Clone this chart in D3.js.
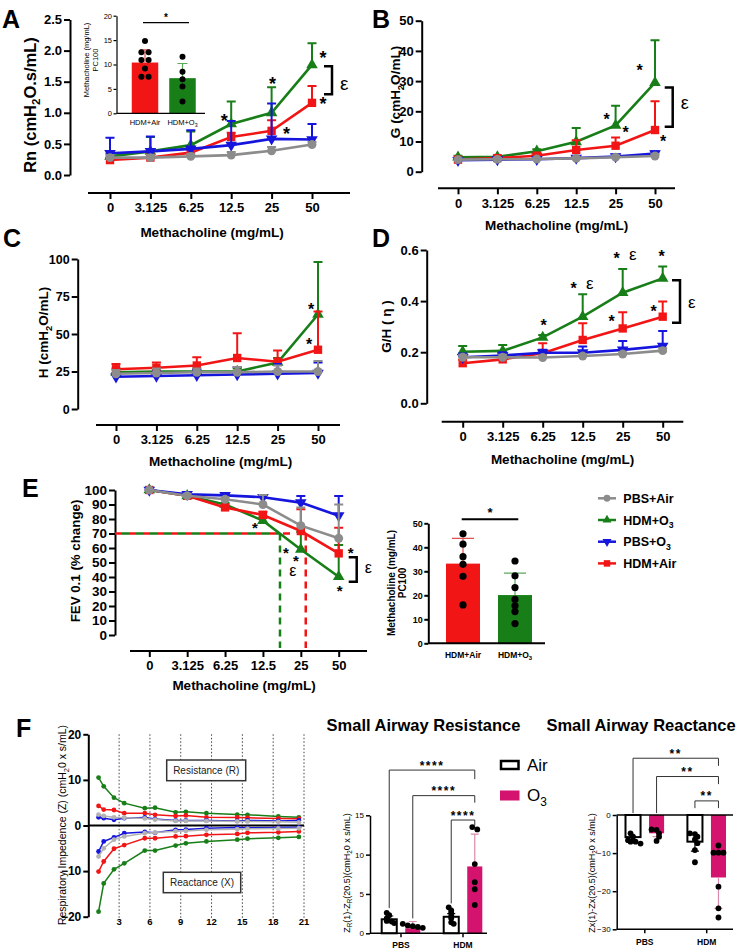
<!DOCTYPE html>
<meta charset="utf-8">
<style>
  body { margin: 0; background: #fff; }
</style>
<body>
<script src="https://cdn.jsdelivr.net/npm/d3@7"></script>
<script>

// ---------------- data ----------------
var doses = ['0', '3.125', '6.25', '12.5', '25', '50'];

// A: Rn (mean, top of error bar)
var rnPbsAir = [0.28, 0.28, 0.30, 0.32, 0.39, 0.49];
var rnPbsAirErr = [0.32, 0.32, 0.34, 0.37, 0.45, 0.53];
var rnHdmO3 = [0.30, 0.38, 0.48, 0.82, 1.00, 1.77];
var rnHdmO3Err = [0.34, 0.61, 0.70, 1.18, 1.41, 2.12];
var rnPbsO3 = [0.35, 0.38, 0.42, 0.48, 0.58, 0.57];
var rnPbsO3Err = [0.60, 0.62, 0.72, 0.87, 1.15, 0.82];
var rnHdmAir = [0.24, 0.28, 0.36, 0.61, 0.71, 1.16];
var rnHdmAirErr = [0.28, 0.32, 0.40, 0.68, 0.88, 1.43];

// A inset: PC100 Rn
var pcGroups = ['HDM+Air', 'HDM+O_{3}'];
var pcRnMean = [10.4, 7.2];
var pcRnErr = [13.0, 10.2];
var pcRnAirDots = [14.8, 12.5, 12.5, 10.9, 10.9, 9.2, 7.5, 7.5];
var pcRnO3Dots = [11.6, 8.5, 7.0, 5.5, 2.4];

// B: G
var gPbsAir = [4.0, 4.1, 4.2, 4.4, 4.8, 5.2];
var gPbsAirErr = [4.4, 4.5, 4.6, 4.9, 5.4, 5.9];
var gHdmO3 = [4.8, 4.9, 6.8, 9.9, 15.3, 29.5];
var gHdmO3Err = [5.3, 5.4, 7.4, 14.5, 21.8, 43.5];
var gPbsO3 = [3.8, 4.0, 4.1, 4.5, 5.0, 6.0];
var gPbsO3Err = [4.2, 4.4, 4.6, 5.2, 5.7, 6.8];
var gHdmAir = [4.0, 4.5, 5.3, 7.2, 8.6, 13.8];
var gHdmAirErr = [4.4, 5.0, 5.9, 10.4, 11.3, 23.3];

// C: H
var hPbsAir = [23.5, 24, 24.5, 24.5, 25, 25];
var hPbsAirErr = [26, 27, 27, 28, 29, 32];
var hHdmO3 = [24.5, 25, 25, 25, 31, 63];
var hHdmO3Err = [27, 27, 27, 27, 34, 98];
var hPbsO3 = [21.5, 22, 22.5, 23, 23.5, 24];
var hPbsO3Err = [24, 25, 26, 28, 30, 31];
var hHdmAir = [26.5, 27.5, 29, 34, 31.5, 39.5];
var hHdmAirErr = [30, 31, 34.5, 50.5, 39, 65];

// D: G/H
var ghPbsAir = [0.18, 0.18, 0.179, 0.185, 0.193, 0.206];
var ghPbsAirErr = [0.19, 0.19, 0.187, 0.193, 0.20, 0.215];
var ghHdmO3 = [0.202, 0.205, 0.258, 0.339, 0.433, 0.489];
var ghHdmO3Err = [0.224, 0.228, 0.267, 0.427, 0.526, 0.535];
var ghPbsO3 = [0.18, 0.187, 0.198, 0.198, 0.209, 0.224];
var ghPbsO3Err = [0.195, 0.20, 0.21, 0.222, 0.244, 0.283];
var ghHdmAir = [0.157, 0.172, 0.196, 0.248, 0.293, 0.339];
var ghHdmAirErr = [0.17, 0.18, 0.235, 0.313, 0.356, 0.398];

// E: FEV0.1 % change
var fevPbsAir = [100, 96, 93.6, 90, 75.4, 66.7];
var fevPbsAirErr = [100, 97.5, 95, 96.5, 88, 90];
var fevHdmO3 = [100, 96, 90, 78.9, 59, 40.2];
var fevHdmO3Err = [100, 97, 91, 81, 71, 62];
var fevPbsO3 = [100, 97, 96.3, 95, 91.3, 82.3];
var fevPbsO3Err = [100, 98, 97, 96.5, 95.9, 95.9];
var fevHdmAir = [100, 96, 88, 82.8, 71.7, 56.3];
var fevHdmAirErr = [100, 97, 89.5, 85, 86.7, 74];
// dose position (in dose steps) where FEV0.1 falls to 70 %
var pc30HdmO3 = 3.45;
var pc30HdmAir = 4.13;

// E bars: PC100 FEV
var pcFevMean = [33.2, 20.1];
var pcFevErr = [43.7, 29.2];
var pcFevAirDots = [45.6, 41.3, 36.1, 32.9, 27.9, 16.0];
var pcFevO3Dots = [34.3, 28.1, 23.2, 18.3, 15.6, 13.2, 8.2];

// F: impedance spectra
var freqs = [1, 1.5, 2.5, 3.5, 5.5, 6.5, 8.5, 9.5, 11.5, 14.5, 15.5, 18.5, 20.5];
var zrPbsAir = [2.4, 2.1, 1.8, 1.7, 1.55, 1.3, 1.0, 1.0, 1.0, 0.9, 0.9, 0.8, 0.7];
var zrHdmO3 = [10.5, 8.6, 6.1, 4.9, 3.8, 3.9, 2.9, 3.0, 2.7, 2.4, 2.35, 2.0, 1.8];
var zrPbsO3 = [1.8, 1.6, 1.25, 1.6, 1.75, 1.4, 1.1, 1.1, 1.1, 1.0, 1.1, 1.0, 1.1];
var zrHdmAir = [4.3, 3.5, 3.4, 2.7, 2.7, 2.35, 2.1, 2.2, 1.8, 1.75, 1.7, 1.55, 1.5];
var zxPbsAir = [-6.8, -5.0, -3.1, -2.4, -1.7, -1.55, -1.25, -1.2, -0.95, -0.8, -0.7, -0.65, -0.6];
var zxHdmO3 = [-18.9, -12.7, -9.6, -8.3, -5.5, -5.5, -4.4, -3.9, -3.5, -3.1, -2.9, -2.7, -2.5];
var zxPbsO3 = [-5.7, -3.5, -2.6, -1.7, -1.4, -1.6, -0.95, -0.9, -0.6, -0.45, -0.5, -0.45, -0.4];
var zxHdmAir = [-10.1, -7.9, -5.1, -4.3, -2.8, -2.8, -2.4, -2.35, -2.05, -1.85, -1.6, -1.5, -1.3];

// F: small airway bars
var airGroups = ['PBS', 'HDM'];
var exposures = ['Air', 'O3'];
var sarMean = {Air: [1.78, 2.1], O3: [0.64, 8.5]};
var sarErr = {Air: [2.2, 2.5], O3: [1.5, 12.6]};
var sarDots = {
  Air: [[2.6, 2.3, 1.9, 1.57, 1.5, 1.3], [3.3, 2.9, 2.6, 2.2, 1.9, 1.4, 1.2]],
  O3: [[1.2, 1.0, 0.9, 0.8, 0.7], [13.5, 13.2, 8.8, 6.5, 5.6, 3.6]]
};
var sxMean = {Air: [-5.8, -7.0], O3: [-4.8, -16.4]};
var sxErr = {Air: [-6.5, -9.5], O3: [-5.7, -24.5]};
var sxDots = {
  Air: [[-4.8, -5.7, -6.6, -7.0, -7.0, -7.5], [-4.8, -5.0, -5.7, -6.4, -7.4, -9.2, -12.4]],
  O3: [[-3.8, -3.9, -4.8, -5.7, -6.8], [-8.0, -9.9, -9.9, -9.9, -18.8, -24.5, -26.9]]
};

// ---------------- drawing ----------------
var FONT = '"Liberation Sans", Arial, Helvetica, sans-serif';
var magenta = '#d4136e';
var style = {
  pbsAir: {color: '#8c8c8c', light: '#b3b3b3', shape: d3.symbolCircle, size: 62, rot: 0},
  hdmO3: {color: '#187e18', light: '#187e18', shape: d3.symbolTriangle, size: 58, rot: 0},
  pbsO3: {color: '#1515dd', light: '#1515dd', shape: d3.symbolTriangle, size: 58, rot: 180},
  hdmAir: {color: '#f21515', light: '#f21515', shape: d3.symbolSquare, size: 70, rot: 0}
};
var order = ['hdmO3', 'hdmAir', 'pbsO3', 'pbsAir'];

var svg = d3.select('body').append('svg')
    .attr('width', 740)
    .attr('height', 950)
    .attr('font-family', FONT);
svg.append('rect').attr('width', 740).attr('height', 950).attr('fill', '#fff');

// text with _{sub} parts
function rich(sel, str, size) {
    var shift = size * 0.28, down = false;
    str.split(/(_\{[^}]*\})/).forEach(function(p) {
        if (!p) return;
        if (p.charAt(0) === '_') {
            sel.append('tspan').attr('dy', shift).attr('font-size', size * 0.7).text(p.slice(2, -1));
            down = true;
        } else {
            var t = sel.append('tspan').text(p);
            if (down) { t.attr('dy', -shift); down = false; }
        }
    });
    return sel;
}

function label(g, x, y, str, size, o) {
    o = o || {};
    var t = g.append('text')
        .attr('transform', 'translate(' + x + ',' + y + ')' + (o.rotate ? ' rotate(' + o.rotate + ')' : ''))
        .attr('text-anchor', o.anchor || 'middle')
        .attr('font-size', size)
        .attr('font-weight', o.weight || 'bold')
        .attr('fill', o.fill || '#000');
    if (o.dy != null) t.attr('dy', o.dy);
    return rich(t, str, size);
}

function styleAxis(a, size, weight, width) {
    a.attr('font-family', FONT).attr('font-size', size).attr('font-weight', weight || 'bold');
    a.selectAll('.domain, .tick line').attr('stroke', '#000').attr('stroke-width', width || 2);
    a.selectAll('.tick text').attr('fill', '#000');
}

function drawSeries(g, x, y, vals, errs, st, cap) {
    var pts = vals.map(function(v, i) { return {x: x(doses[i]), y: y(v), e: y(errs[i])}; });
    g.append('g').selectAll('path').data(pts).join('path')
        .attr('d', function(d) { return 'M' + d.x + ',' + d.y + 'V' + d.e + 'M' + (d.x - cap) + ',' + d.e + 'H' + (d.x + cap); })
        .attr('fill', 'none').attr('stroke', st.color).attr('stroke-width', 2);
    g.append('path').datum(pts)
        .attr('d', d3.line().x(function(d) { return d.x; }).y(function(d) { return d.y; }))
        .attr('fill', 'none').attr('stroke', st.color).attr('stroke-width', 2.6);
    g.append('g').selectAll('path').data(pts).join('path')
        .attr('transform', function(d) { return 'translate(' + d.x + ',' + d.y + ') rotate(' + st.rot + ')'; })
        .attr('d', d3.symbol().type(st.shape).size(st.size))
        .attr('fill', st.color);
}

// dose-response line panel (A-E)
function linePanel(p) {
    var g = svg.append('g');
    var x = d3.scalePoint().domain(doses).range([p.xFirst, p.xLast]);
    var y = d3.scaleLinear().domain(p.yDomain).range([p.yBottom, p.yTop]);

    var ya = g.append('g').attr('transform', 'translate(' + p.yAxisX + ',0)')
        .call(d3.axisLeft(y).tickValues(p.yTicks).tickFormat(p.yFmt || d3.format('d'))
            .tickSize(6).tickSizeOuter(0).tickPadding(2));
    styleAxis(ya, p.yTickSize);

    var xa = g.append('g').attr('transform', 'translate(0,' + p.xAxisY + ')')
        .call(d3.axisBottom(x).tickSize(6).tickPadding(4));
    xa.select('.domain').remove();
    xa.append('line').attr('x1', p.xAxisX0).attr('x2', p.xAxisX1)
        .attr('stroke', '#000').attr('stroke-width', 2);
    styleAxis(xa, 13);

    label(g, p.yTitleX, p.yTitleY, p.yTitle, p.yTitleSize, {rotate: -90, dy: '0.35em'});
    label(g, p.xTitleX, p.xTitleY, 'Methacholine (mg/mL)', 13.5);
    label(g, p.letterX, p.letterY, p.letter, 25, {anchor: 'start'});

    if (p.before) p.before(g, x, y);
    order.forEach(function(k) {
        drawSeries(g, x, y, p.series[k][0], p.series[k][1], style[k], 4.5);
    });

    // significance marks
    (p.stars || []).forEach(function(s) {
        label(g, x(doses[s[0]]) + s[2], y(s[1]) + 0.57 * p.starSize, '*', p.starSize);
    });
    (p.eps || []).forEach(function(s) {
        label(g, x(doses[s[0]]) + s[2], y(s[1]) + 0.26 * p.epsSize, 'ε', p.epsSize, {weight: 'normal'});
    });
    if (p.bracket) {
        var b = p.bracket, bx = x(doses[b[0]]) + b[1];
        g.append('path')
            .attr('d', 'M' + (bx - 8) + ',' + y(b[2]) + 'H' + bx + 'V' + y(b[3]) + 'H' + (bx - 8))
            .attr('fill', 'none').attr('stroke', '#000').attr('stroke-width', 2.5);
        label(g, bx + 8, y(b[4]) + 0.26 * p.epsSize, 'ε', p.epsSize, {weight: 'normal', anchor: 'start'});
    }
    return {g: g, x: x, y: y};
}

// spread dots of nearly equal height side by side
function spread(vals, y, gap) {
    return vals.map(function(v, i) {
        var grp = [], rank = 0;
        vals.forEach(function(w, j) {
            if (Math.abs(y(w) - y(v)) < 4) { if (j < i) rank++; grp.push(j); }
        });
        return (rank - (grp.length - 1) / 2) * gap;
    });
}

// PC100 bar chart (A inset and E)
function pcBars(p) {
    var g = svg.append('g');
    var x = d3.scalePoint().domain(pcGroups).range(p.barX);
    var y = d3.scaleLinear().domain(p.yDomain).range([p.yBottom, p.yTop]);
    var fills = [style.hdmAir.color, style.hdmO3.color];
    var errCol = ['#e05050', '#5aa85a'];

    g.selectAll('rect.bar').data(p.mean).join('rect')
        .attr('x', function(d, i) { return x(pcGroups[i]) - p.barW / 2; })
        .attr('y', function(d) { return y(d); })
        .attr('width', p.barW)
        .attr('height', function(d) { return y(0) - y(d); })
        .attr('fill', function(d, i) { return fills[i]; });
    g.selectAll('path.err').data(p.err).join('path')
        .attr('d', function(d, i) {
            var cx = x(pcGroups[i]);
            return 'M' + cx + ',' + y(p.mean[i]) + 'V' + y(d) + 'M' + (cx - p.cap) + ',' + y(d) + 'H' + (cx + p.cap);
        })
        .attr('fill', 'none').attr('stroke', function(d, i) { return errCol[i]; }).attr('stroke-width', 1.2);
    [p.dotsA, p.dotsB].forEach(function(dots, k) {
        var off = spread(dots, y, p.dotR * 2.4);
        g.selectAll(null).data(dots).join('circle')
            .attr('cx', function(d, i) { return x(pcGroups[k]) + off[i]; })
            .attr('cy', function(d) { return y(d); })
            .attr('r', p.dotR).attr('fill', '#000');
    });

    var ya = g.append('g').attr('transform', 'translate(' + p.yAxisX + ',0)')
        .call(d3.axisLeft(y).tickValues(p.yTicks).tickSize(p.tick).tickSizeOuter(0).tickPadding(1.5));
    styleAxis(ya, p.tickFont, p.tickWeight, p.axisW);
    g.append('line').attr('x1', p.yAxisX).attr('x2', p.xEnd).attr('y1', y(0)).attr('y2', y(0))
        .attr('stroke', '#000').attr('stroke-width', p.axisW);

    pcGroups.forEach(function(name) {
        label(g, x(name), p.labelY, name, p.labelFont, {weight: p.tickWeight});
    });
    p.yTitle.forEach(function(t) {
        label(g, t[1], p.yTitleY, t[0], p.yTitleFont, {rotate: -90, dy: '0.35em', weight: p.tickWeight});
    });
    g.append('line').attr('x1', p.starLine[0]).attr('x2', p.starLine[1])
        .attr('y1', p.starLine[2]).attr('y2', p.starLine[2])
        .attr('stroke', '#000').attr('stroke-width', p.axisW);
    label(g, (p.starLine[0] + p.starLine[1]) / 2, p.starLine[2] - 2, '*', p.starFont);
}

// ---- A ----
linePanel({
    letter: 'A', letterX: 2, letterY: 28,
    yAxisX: 70, yBottom: 175, yTop: 19.5, yDomain: [0, 2.5],
    yTicks: [0, 0.5, 1, 1.5, 2, 2.5], yFmt: d3.format('.1f'), yTickSize: 13,
    xAxisY: 193, xAxisX0: 88, xAxisX1: 350, xFirst: 110, xLast: 312,
    yTitle: 'Rn (cmH_{2}O.s/mL)', yTitleX: 30, yTitleY: 105, yTitleSize: 16.5,
    xTitleX: 212, xTitleY: 236.5,
    series: {
        pbsAir: [rnPbsAir, rnPbsAirErr], hdmO3: [rnHdmO3, rnHdmO3Err],
        pbsO3: [rnPbsO3, rnPbsO3Err], hdmAir: [rnHdmAir, rnHdmAirErr]
    },
    starSize: 18, epsSize: 19,
    stars: [[5, 1.95, 11], [5, 1.21, 11], [4, 0.72, 15], [4, 1.53, 1], [3, 0.93, -7]],
    bracket: [5, 20, 1.75, 1.30, 1.45]
});

pcBars({
    barX: [145, 182.5], barW: 26.5, cap: 5,
    yAxisX: 116.5, yBottom: 113.3, yTop: 15.7, yDomain: [0, 20], yTicks: [0, 5, 10, 15, 20],
    tick: 3, tickFont: 7.5, tickWeight: 'normal', axisW: 1.2, xEnd: 205,
    mean: pcRnMean, err: pcRnErr, dotsA: pcRnAirDots, dotsB: pcRnO3Dots, dotR: 3,
    labelY: 125, labelFont: 7.5,
    yTitle: [['Methacholine (mg/mL)', 86], ['PC100', 95]], yTitleY: 60, yTitleFont: 7.5,
    starLine: [143, 189, 22.7], starFont: 10
});

// ---- B ----
linePanel({
    letter: 'B', letterX: 372, letterY: 28,
    yAxisX: 421.7, yBottom: 171.7, yTop: 20.7, yDomain: [0, 50],
    yTicks: [0, 10, 20, 30, 40, 50], yTickSize: 13,
    xAxisY: 188.3, xAxisX0: 438, xAxisX1: 675, xFirst: 458, xLast: 655,
    yTitle: 'G (cmH_{2}O/mL)', yTitleX: 395, yTitleY: 92, yTitleSize: 13.5,
    xTitleX: 556.7, xTitleY: 230,
    series: {
        pbsAir: [gPbsAir, gPbsAirErr], hdmO3: [gHdmO3, gHdmO3Err],
        pbsO3: [gPbsO3, gPbsO3Err], hdmAir: [gHdmAir, gHdmAirErr]
    },
    starSize: 16, epsSize: 18,
    stars: [[4, 34.7, 24], [4, 18.4, -9], [4, 14.1, 10], [5, 11.1, 8]],
    bracket: [5, 17.7, 27.9, 14.9, 22.4]
});

// ---- C ----
linePanel({
    letter: 'C', letterX: 3, letterY: 247,
    yAxisX: 77.7, yBottom: 409, yTop: 259, yDomain: [0, 100],
    yTicks: [0, 25, 50, 75, 100], yTickSize: 12.5,
    xAxisY: 425, xAxisX0: 96, xAxisX1: 340, xFirst: 116, xLast: 318,
    yTitle: 'H (cmH_{2}O/mL)', yTitleX: 43.3, yTitleY: 332.5, yTitleSize: 13.5,
    xTitleX: 220.5, xTitleY: 466,
    series: {
        pbsAir: [hPbsAir, hPbsAirErr], hdmO3: [hHdmO3, hHdmO3Err],
        pbsO3: [hPbsO3, hPbsO3Err], hdmAir: [hHdmAir, hHdmAirErr]
    },
    starSize: 16, epsSize: 18,
    stars: [[5, 68.8, -7], [5, 45.2, -9]]
});

// ---- D ----
linePanel({
    letter: 'D', letterX: 372, letterY: 247,
    yAxisX: 426.7, yBottom: 403.3, yTop: 250, yDomain: [0, 0.6],
    yTicks: [0, 0.2, 0.4, 0.6], yFmt: d3.format('.1f'), yTickSize: 13,
    xAxisY: 421.7, xAxisX0: 441.7, xAxisX1: 683.3, xFirst: 462.7, xLast: 662.7,
    yTitle: 'G/H ( η )', yTitleX: 386.7, yTitleY: 326.5, yTitleSize: 13.5,
    xTitleX: 562.5, xTitleY: 464,
    series: {
        pbsAir: [ghPbsAir, ghPbsAirErr], hdmO3: [ghHdmO3, ghHdmO3Err],
        pbsO3: [ghPbsO3, ghPbsO3Err], hdmAir: [ghHdmAir, ghHdmAirErr]
    },
    starSize: 16, epsSize: 17,
    stars: [[2, 0.319, 1], [3, 0.463, -9], [4, 0.58, -6], [5, 0.587, -1], [4, 0.333, -11], [5, 0.372, -9]],
    eps: [[3, 0.463, 7], [4, 0.58, 10]],
    bracket: [5, 17.3, 0.482, 0.315, 0.389]
});

// ---- E ----
linePanel({
    letter: 'E', letterX: 22, letterY: 497,
    yAxisX: 115, yBottom: 635, yTop: 490, yDomain: [0, 100],
    yTicks: d3.range(0, 101, 10), yTickSize: 13.5,
    xAxisY: 651, xAxisX0: 130, xAxisX1: 367, xFirst: 149.3, xLast: 338.7,
    yTitle: 'FEV 0.1 (% change)', yTitleX: 75, yTitleY: 561, yTitleSize: 13.3,
    xTitleX: 244, xTitleY: 690,
    series: {
        pbsAir: [fevPbsAir, fevPbsAirErr], hdmO3: [fevHdmO3, fevHdmO3Err],
        pbsO3: [fevPbsO3, fevPbsO3Err], hdmAir: [fevHdmAir, fevHdmAirErr]
    },
    starSize: 15, epsSize: 16,
    stars: [[3, 75.9, -8], [3, 59.3, 23], [4, 53.6, -5], [5, 59.3, 12], [5, 32.9, 1]],
    eps: [[4, 43.5, -8]],
    bracket: [5, 18, 53.6, 36.8, 45.5],
    before: function(g, x, y) {
        var step = d3.scaleLinear().domain([0, doses.length - 1]).range(x.range());
        var y70 = y(70);
        g.append('line').attr('x1', 115).attr('x2', step(pc30HdmAir)).attr('y1', y70).attr('y2', y70)
            .attr('stroke', style.hdmAir.color).attr('stroke-width', 2.5).attr('stroke-dasharray', '7,7');
        g.append('line').attr('x1', 115).attr('x2', step(pc30HdmO3)).attr('y1', y70).attr('y2', y70)
            .attr('stroke', style.hdmO3.color).attr('stroke-width', 2.5)
            .attr('stroke-dasharray', '7,7').attr('stroke-dashoffset', 7);
        [[pc30HdmO3, style.hdmO3.color], [pc30HdmAir, style.hdmAir.color]].forEach(function(d) {
            g.append('line').attr('x1', step(d[0])).attr('x2', step(d[0]))
                .attr('y1', y70).attr('y2', 648)
                .attr('stroke', d[1]).attr('stroke-width', 2.5).attr('stroke-dasharray', '7,5');
        });
    }
});

pcBars({
    barX: [463, 515], barW: 34, cap: 11,
    yAxisX: 428.3, yBottom: 643.3, yTop: 523.3, yDomain: [0, 50], yTicks: [0, 10, 20, 30, 40, 50],
    tick: 4, tickFont: 9, tickWeight: 'bold', axisW: 2, xEnd: 545,
    mean: pcFevMean, err: pcFevErr, dotsA: pcFevAirDots, dotsB: pcFevO3Dots, dotR: 3.6,
    labelY: 658, labelFont: 8.5,
    yTitle: [['Methacholine (mg/mL)', 391.7], ['PC100', 402.5]], yTitleY: 583, yTitleFont: 10,
    starLine: [461.7, 518.3, 519.3], starFont: 13
});

// legend
var legendNames = [['pbsAir', 'PBS+Air'], ['hdmO3', 'HDM+O_{3}'], ['pbsO3', 'PBS+O_{3}'], ['hdmAir', 'HDM+Air']];
var lg = svg.append('g');
legendNames.forEach(function(d, i) {
    var ly = 498.3 + i * 21.7, st = style[d[0]];
    lg.append('line').attr('x1', 598).attr('x2', 616).attr('y1', ly).attr('y2', ly)
        .attr('stroke', st.color).attr('stroke-width', 2.5);
    lg.append('path').attr('transform', 'translate(607,' + ly + ') rotate(' + st.rot + ')')
        .attr('d', d3.symbol().type(st.shape).size(st.size * 0.6)).attr('fill', st.color);
    label(lg, 623.3, ly + 4.5, d[1], 12.5, {anchor: 'start'});
});

// ---- F: impedance spectra ----
(function() {
    var g = svg.append('g');
    var x = d3.scaleLinear().domain([0, 21]).range([88.3, 304]);
    var y = d3.scaleLinear().domain([-20, 20]).range([916.7, 734.3]);
    var xt = [3, 6, 9, 12, 15, 18, 21];

    g.selectAll('line.grid').data(xt).join('line')
        .attr('x1', function(d) { return x(d); }).attr('x2', function(d) { return x(d); })
        .attr('y1', y(20)).attr('y2', 918)
        .attr('stroke', '#444').attr('stroke-width', 1).attr('stroke-dasharray', '1.5,2');
    g.append('line').attr('x1', x(0)).attr('x2', x(21)).attr('y1', y(0)).attr('y2', y(0))
        .attr('stroke', '#000').attr('stroke-width', 2);

    var ya = g.append('g').attr('transform', 'translate(' + x(0) + ',0)')
        .call(d3.axisLeft(y).tickValues([-20, -10, 0, 10, 20]).tickSize(5).tickSizeOuter(0).tickPadding(2));
    styleAxis(ya, 12);
    g.selectAll('text.xt').data(xt).join('text')
        .attr('x', function(d) { return x(d); }).attr('y', 925)
        .attr('text-anchor', 'middle').attr('font-size', 9.5).attr('font-weight', 'bold')
        .text(function(d) { return d; });

    label(g, 62, 825, 'Respiratory Impedence (Z) (cmH_{2}0 x s/mL)', 10.5, {rotate: -90, dy: '0.35em', weight: 'normal'});
    label(g, 16, 737, 'F', 25, {anchor: 'start'});

    var spectra = [
        ['hdmO3', zrHdmO3, zxHdmO3], ['hdmAir', zrHdmAir, zxHdmAir],
        ['pbsO3', zrPbsO3, zxPbsO3], ['pbsAir', zrPbsAir, zxPbsAir]
    ];
    var line = d3.line().x(function(d, i) { return x(freqs[i]); }).y(function(d) { return y(d); });
    spectra.forEach(function(s) {
        var c = s[0] === 'pbsAir' ? style.pbsAir.light : style[s[0]].color;
        [s[1], s[2]].forEach(function(vals) {
            g.append('path').datum(vals).attr('d', line)
                .attr('fill', 'none').attr('stroke', c).attr('stroke-width', 1.5);
            g.selectAll(null).data(vals).join('circle')
                .attr('cx', function(d, i) { return x(freqs[i]); })
                .attr('cy', function(d) { return y(d); })
                .attr('r', 2.4).attr('fill', c);
        });
    });

    [['Resistance (R)', 166.7, 760, 79, 20.7], ['Reactance (X)', 163.3, 872.3, 77.4, 20.4]].forEach(function(b) {
        g.append('rect').attr('x', b[1]).attr('y', b[2]).attr('width', b[3]).attr('height', b[4])
            .attr('fill', '#fff').attr('stroke', '#333').attr('stroke-width', 1.5);
        label(g, b[1] + b[3] / 2, b[2] + b[4] / 2 + 3.5, b[0], 10, {weight: 'normal', fill: '#222'});
    });
})();

// ---- F: small airway bar charts ----
function airwayChart(p) {
    var g = svg.append('g');
    var y = d3.scaleLinear().domain(p.yDomain).range(p.yRange);
    var xg = d3.scalePoint().domain(airGroups).range(p.groupX);
    var xs = d3.scaleBand().domain(exposures).range([-19.3, 19.3]).paddingInner(0.36);
    var cx = function(grp, e) { return xg(grp) + xs(e) + xs.bandwidth() / 2; };

    exposures.forEach(function(e) {
        var air = e === 'Air';
        g.selectAll(null).data(p.mean[e]).join('rect')
            .attr('x', function(d, i) { return xg(airGroups[i]) + xs(e); })
            .attr('y', function(d) { return Math.min(y(0), y(d)); })
            .attr('width', xs.bandwidth())
            .attr('height', function(d) { return Math.abs(y(d) - y(0)); })
            .attr('fill', air ? '#fff' : magenta)
            .attr('stroke', air ? '#000' : 'none').attr('stroke-width', 2);
        g.selectAll(null).data(p.err[e]).join('path')
            .attr('d', function(d, i) {
                var c = cx(airGroups[i], e);
                return 'M' + c + ',' + y(p.mean[e][i]) + 'V' + y(d) + 'M' + (c - 4) + ',' + y(d) + 'H' + (c + 4);
            })
            .attr('fill', 'none').attr('stroke', air ? '#000' : '#d98aae').attr('stroke-width', 1.2);
        p.dots[e].forEach(function(dots, k) {
            var off = spread(dots, y, 5);
            g.selectAll(null).data(dots).join('circle')
                .attr('cx', function(d, i) { return cx(airGroups[k], e) + off[i]; })
                .attr('cy', function(d) { return y(d); })
                .attr('r', 2.9).attr('fill', '#000');
        });
    });

    var ya = g.append('g').attr('transform', 'translate(' + p.yAxisX + ',0)')
        .call(d3.axisLeft(y).tickValues(p.yTicks).tickSize(4).tickSizeOuter(0).tickPadding(2));
    styleAxis(ya, 8, 'normal', 1.5);
    p.hLines.forEach(function(v) {
        g.append('line').attr('x1', p.yAxisX).attr('x2', p.xEnd).attr('y1', y(v)).attr('y2', y(v))
            .attr('stroke', '#000').attr('stroke-width', 1.5);
    });
    airGroups.forEach(function(grp) {
        g.append('line').attr('x1', xg(grp)).attr('x2', xg(grp))
            .attr('y1', y(p.baseTick)).attr('y2', y(p.baseTick) + 4)
            .attr('stroke', '#000').attr('stroke-width', 1.5);
        label(g, xg(grp), p.labelY, grp, 8.5);
    });
    label(g, p.yTitleX, p.yTitleY, p.yTitle, 9, {rotate: -90, dy: '0.35em', weight: 'normal'});
    label(g, (p.groupX[0] + p.groupX[1]) / 2 + p.titleDx, 731, p.title, 16.5);

    p.brackets.forEach(function(b) {
        var x1 = cx(b[0], b[1]), x2 = cx(b[2], b[3]), ly = y(b[4]);
        g.append('path')
            .attr('d', 'M' + x1 + ',' + y(b[5]) + 'V' + ly + 'H' + x2 + 'V' + y(b[6]))
            .attr('fill', 'none').attr('stroke', '#333').attr('stroke-width', 1);
        g.append('text').attr('x', (x1 + x2) / 2).attr('y', ly - 0.5)
            .attr('text-anchor', 'middle').attr('font-size', 12).attr('font-weight', 'bold')
            .attr('letter-spacing', 1.5).text(b[7]);
    });
}

airwayChart({
    title: 'Small Airway Resistance', titleDx: -8.5,
    yDomain: [0, 15], yRange: [933.3, 815.3], yTicks: [0, 5, 10, 15],
    groupX: [401, 463], yAxisX: 370, xEnd: 487, hLines: [0], baseTick: 0, labelY: 948,
    mean: sarMean, err: sarErr, dots: sarDots,
    yTitle: 'Z_{R}(1)-Z_{R}(20.5)(cmH_{2}0 x s/mL)', yTitleX: 346.7, yTitleY: 873,
    brackets: [
        ['PBS', 'Air', 'HDM', 'O3', 20.75, 3.2, 19.6, '****'],
        ['PBS', 'O3', 'HDM', 'O3', 17.5, 1.9, 16.6, '****'],
        ['HDM', 'Air', 'HDM', 'O3', 14.4, 3.8, 13.7, '****']
    ]
});

airwayChart({
    title: 'Small Airway Reactance', titleDx: -34.7,
    yDomain: [0, -30], yRange: [815, 929.3], yTicks: [0, -10, -20, -30],
    groupX: [644.8, 706.7], yAxisX: 616.7, xEnd: 733, hLines: [0, -30], baseTick: -30, labelY: 945,
    mean: sxMean, err: sxErr, dots: sxDots,
    yTitle: 'Zx(1)-Zx(20.5)(cmH_{2}0 x s/mL)', yTitleX: 591.7, yTitleY: 873,
    brackets: [
        ['PBS', 'Air', 'HDM', 'O3', 14.9, 0.5, 12.9, '**'],
        ['PBS', 'O3', 'HDM', 'O3', 10.1, 0.5, 8.1, '**'],
        ['HDM', 'Air', 'HDM', 'O3', 3.7, 1.8, 1.8, '**']
    ]
});

// Air / O3 legend
var fl = svg.append('g');
fl.append('rect').attr('x', 501).attr('y', 761).attr('width', 17.5).attr('height', 8)
    .attr('fill', '#fff').attr('stroke', '#000').attr('stroke-width', 2.5);
fl.append('rect').attr('x', 500).attr('y', 790.5).attr('width', 19.5).attr('height', 10)
    .attr('fill', magenta);
label(fl, 527, 771, 'Air', 17, {anchor: 'start', weight: 'normal'});
label(fl, 527, 801, 'O_{3}', 17, {anchor: 'start', weight: 'normal'});

</script>
</body>
